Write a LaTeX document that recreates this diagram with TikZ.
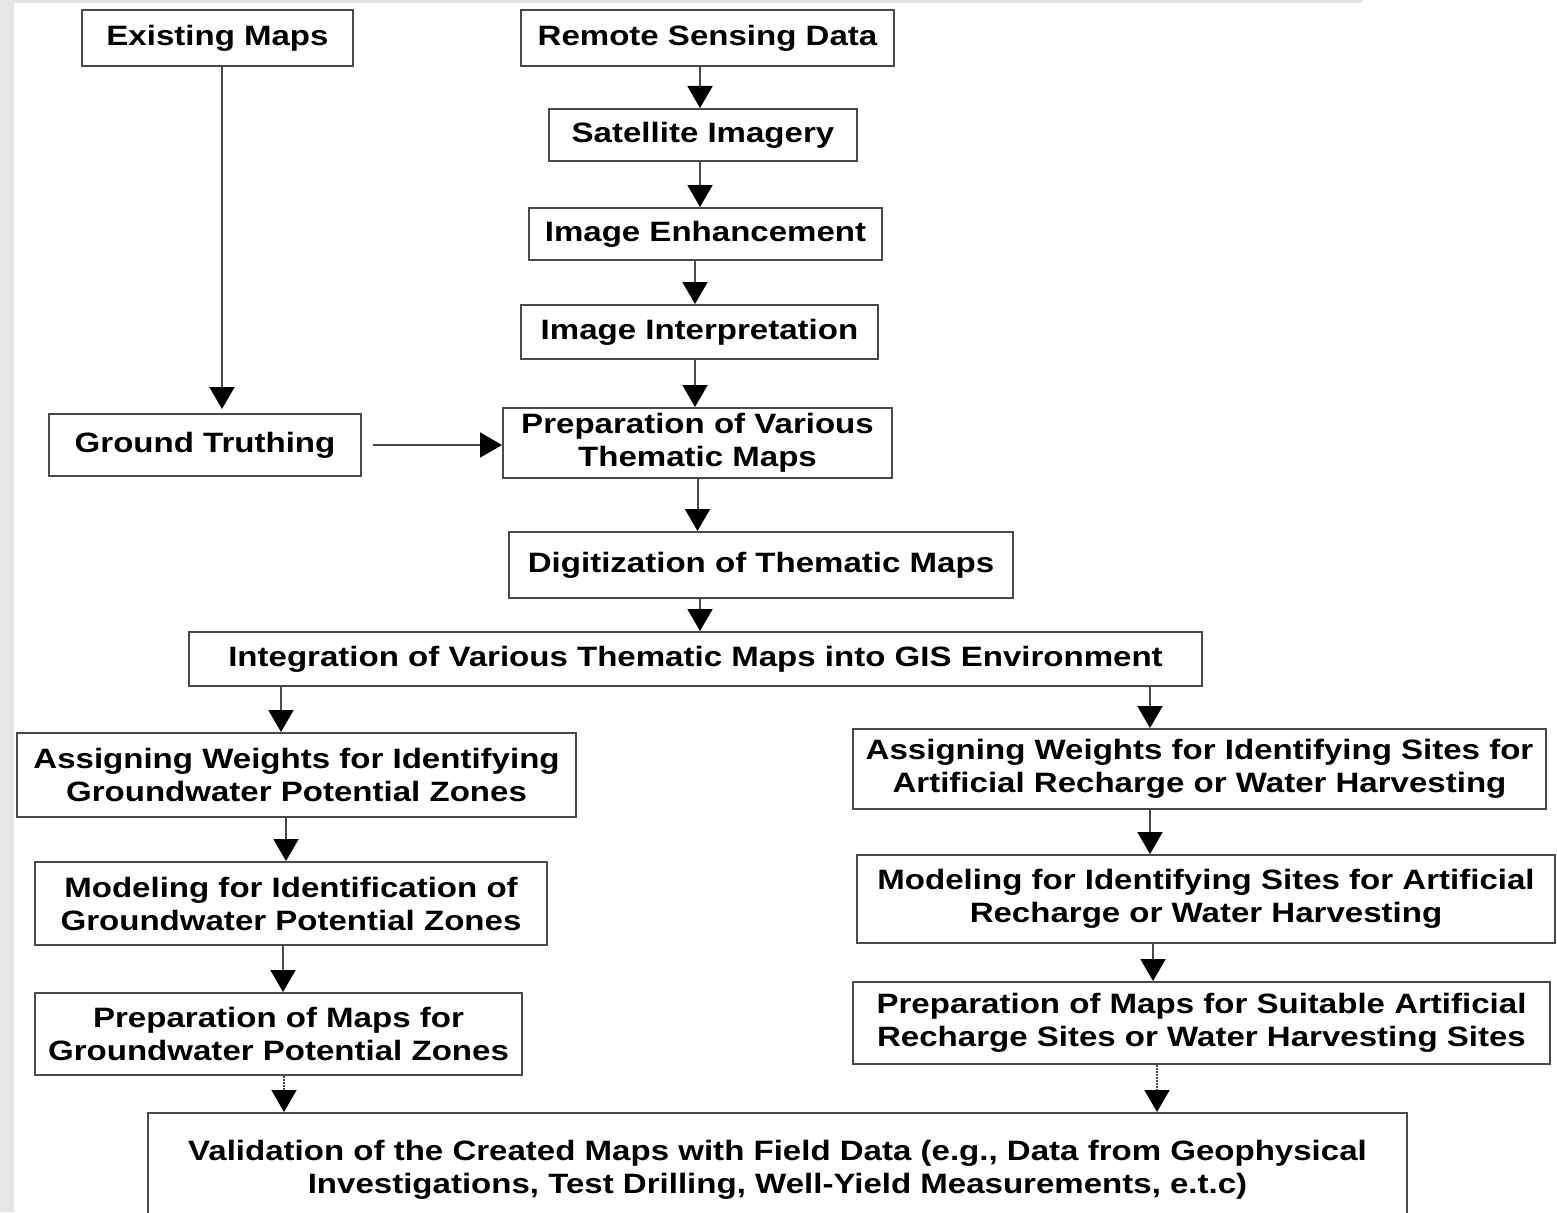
\documentclass[tikz,border=0pt]{standalone}
\usepackage{fontspec}
\setmainfont{Liberation Sans}[FakeStretch=1.18]
\usetikzlibrary{arrows.meta, positioning, calc}
\definecolor{cLine}{HTML}{4A4A4A}
\definecolor{cStrip}{HTML}{E6E6E6}
\tikzset{
  font=\fontsize{28}{33}\selectfont\bfseries,
  box/.style={draw=cLine, line width=2pt, fill=white, align=center,
    inner sep=0pt},
  flow/.style={-{Triangle[length=22pt, width=25pt, color=black]},
    line width=2pt, draw=cLine},
  dotflow/.style={flow, densely dotted, line width=1.5pt},
}

\begin{document}
\begin{tikzpicture}[x=1pt, y=-1pt]

  \useasboundingbox (0,0) rectangle (1557,1212);
  \fill[cStrip] (0,0) rectangle (14,1212);
  \fill[cStrip] (14,0) rectangle (1363,3);

  % ----------------------------------------------------------------
  % Inputs and image processing
  % ----------------------------------------------------------------
  \node[box, minimum width=271pt, minimum height=56pt] (exist) at (217.5,38) {Existing Maps};
  \node[box, minimum width=373pt, minimum height=56pt] (rsd) at (707.5,38) {Remote Sensing Data};
  \node[box, minimum width=308pt, minimum height=52pt] (sat) at (703,135) {Satellite Imagery};
  \node[box, minimum width=353pt, minimum height=52pt] (enh) at (705.5,234) {Image Enhancement};
  \node[box, minimum width=357pt, minimum height=54pt] (interp) at (699.5,332) {Image Interpretation};
  \node[box, minimum width=312pt, minimum height=62pt] (ground) at (205,445) {Ground Truthing};
  \node[box, minimum width=389pt, minimum height=70pt] (thematic) at (697.5,443)
    {Preparation of Various\\ Thematic Maps};
  \node[box, minimum width=504pt, minimum height=66pt] (digit) at (761,565)
    {Digitization of Thematic Maps};
  \node[box, minimum width=1013pt, minimum height=54pt] (gis) at (695.5,659)
    {Integration of Various Thematic Maps into GIS Environment};

  \draw[flow] ([xshift=4.5pt]exist.south) -- ([xshift=17pt, yshift=4pt]ground.north);
  \draw[flow] ([xshift=-7.5pt]rsd.south) -- ([xshift=-3pt]sat.north);
  \draw[flow] ([xshift=-3pt]sat.south) -- ([xshift=-5.5pt]enh.north);
  \draw[flow] ([xshift=-10.5pt]enh.south) -- ([xshift=-4.5pt]interp.north);
  \draw[flow] ([xshift=-4.5pt]interp.south) -- ([xshift=-2.5pt]thematic.north);
  \draw[flow] ([xshift=11pt]ground.east) -- (ground.east -| thematic.west);
  \draw[flow] (thematic.south) -- (thematic.south |- digit.north);
  \draw[flow] ([xshift=-61pt]digit.south) -- ([xshift=4.5pt]gis.north);

  % ----------------------------------------------------------------
  % Groundwater potential zones (left)
  % ----------------------------------------------------------------
  \node[box, minimum width=559pt, minimum height=84pt] (weightsL) at (296.5,775)
    {Assigning Weights for Identifying\\ Groundwater Potential Zones};
  \node[box, minimum width=512pt, minimum height=83pt] (modelL) at (291,903.5)
    {Modeling for Identification of\\ Groundwater Potential Zones};
  \node[box, minimum width=487pt, minimum height=82pt] (mapsL) at (278.5,1034)
    {Preparation of Maps for\\ Groundwater Potential Zones};

  \draw[flow] ([xshift=-414.5pt]gis.south) -- ([xshift=-15.5pt]weightsL.north);
  \draw[flow] ([xshift=-10.5pt]weightsL.south) -- ([xshift=-5pt]modelL.north);
  \draw[flow] ([xshift=-8pt]modelL.south) -- ([xshift=4.5pt]mapsL.north);

  % ----------------------------------------------------------------
  % Artificial recharge / water harvesting sites (right)
  % ----------------------------------------------------------------
  \node[box, minimum width=693pt, minimum height=80pt] (weightsR) at (1199.5,769)
    {Assigning Weights for Identifying Sites for\\ Artificial Recharge or Water Harvesting};
  \node[box, minimum width=698pt, minimum height=88pt] (modelR) at (1206,899)
    {Modeling for Identifying Sites for Artificial\\ Recharge or Water Harvesting};
  \node[box, minimum width=697pt, minimum height=82pt] (mapsR) at (1201.5,1023)
    {Preparation of Maps for Suitable Artificial\\ Recharge Sites or Water Harvesting Sites};

  \draw[flow] ([xshift=454.5pt]gis.south) -- ([xshift=-49.5pt]weightsR.north);
  \draw[flow] ([xshift=-49.5pt]weightsR.south) -- ([xshift=-56pt]modelR.north);
  \draw[flow] ([xshift=-53pt]modelR.south) -- ([xshift=-48.5pt]mapsR.north);

  % ----------------------------------------------------------------
  % Validation
  % ----------------------------------------------------------------
  \node[box, minimum width=1259pt, minimum height=114pt] (valid) at (777.5,1170)
    {Validation of the Created Maps with Field Data (e.g., Data from Geophysical\\
     Investigations, Test Drilling, Well-Yield Measurements, e.t.c)};

  \draw[dotflow] ([xshift=5.5pt]mapsL.south) -- ([xshift=-493.5pt]valid.north);
  \draw[dotflow] ([xshift=-44.5pt]mapsR.south) -- ([xshift=379.5pt]valid.north);

\end{tikzpicture}
\end{document}
